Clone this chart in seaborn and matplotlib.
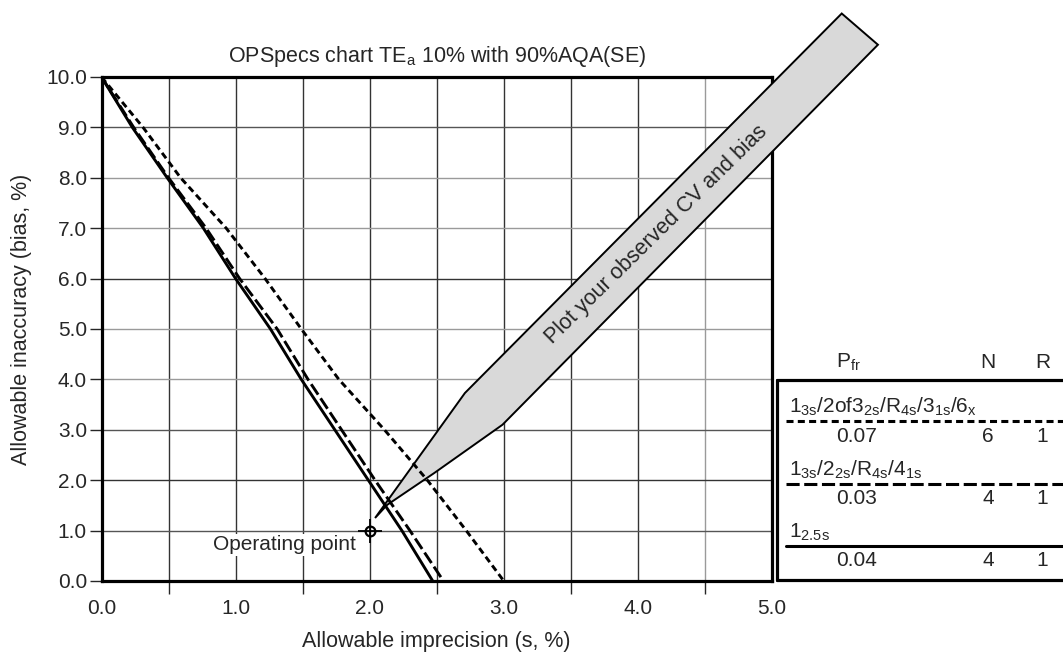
import numpy as np
import pandas as pd
import matplotlib
matplotlib.use("Agg")
import matplotlib.pyplot as plt
from matplotlib.lines import Line2D
from matplotlib.patches import Polygon
import seaborn as sns

# OPSpecs curves: allowable imprecision (s, %) read at each bias level
bias_levels = [10, 9, 8, 7, 6, 5, 4, 3, 2, 1, 0]
s_multi6 = [0.0, 0.31, 0.59, 0.93, 1.22, 1.49, 1.77, 2.11, 2.43, 2.72, 3.00]
s_multi4 = [0.0, 0.24, 0.50, 0.78, 1.03, 1.31, 1.54, 1.79, 2.04, 2.30, 2.55]
s_single = [0.0, 0.23, 0.49, 0.76, 1.00, 1.26, 1.49, 1.74, 1.99, 2.24, 2.47]

rules = ["1$_{3s}$/2of3$_{2s}$/R$_{4s}$/3$_{1s}$/6$_{x}$",
         "1$_{3s}$/2$_{2s}$/R$_{4s}$/4$_{1s}$",
         "1$_{2.5s}$"]
pfr = ["0.07", "0.03", "0.04"]
n_vals = [6, 4, 4]
r_vals = [1, 1, 1]

op_s = [2.0]
op_bias = [1.0]

# pointer band "Plot your observed CV and bias"
arrow_s = [2.04, 2.71, 5.52, 5.79, 2.99, 2.48, 2.13]
arrow_bias = [1.25, 3.73, 11.26, 10.64, 3.10, 2.14, 1.51]

sns.set_style("white")
plt.rcParams["font.family"] = ["Liberation Sans", "DejaVu Sans"]
plt.rcParams["mathtext.default"] = "regular"

W, H = 1063, 652
def fx(px):
    return px / W
def fy(py):
    return 1 - py / H

DASHES = {rules[0]: (2.3, 1.4), rules[1]: (4.3, 1.5), rules[2]: ""}

df = pd.DataFrame({
    "s": s_multi6 + s_multi4 + s_single,
    "bias": bias_levels * 3,
    "rule": [rules[0]] * 11 + [rules[1]] * 11 + [rules[2]] * 11,
})

fig = plt.figure(figsize=(10.63, 6.52), dpi=100)
ax = fig.add_axes([fx(101.5), fy(581), fx(772) - fx(101.5), fy(77) - fy(581)])

sns.lineplot(data=df, x="s", y="bias", hue="rule", style="rule",
             palette=["black"] * 3, dashes=DASHES, linewidth=2.1,
             estimator=None, sort=False, legend=False, ax=ax, zorder=4)

ax.add_patch(Polygon(list(zip(arrow_s, arrow_bias)), closed=True,
                     facecolor="#d9d9d9", edgecolor="black", lw=1.4,
                     clip_on=False, zorder=3))
ax.text(4.14, 6.87, "Plot your observed CV and bias", rotation=44.5,
        rotation_mode="anchor", ha="center", va="center", fontsize=15.5,
        zorder=5)

ax.plot(op_s, op_bias, marker="o", ms=7, mfc="none", mec="black", mew=1.6,
        ls="none", zorder=6)
ax.plot(op_s, op_bias, marker="+", ms=17, mec="black", mew=1.3,
        ls="none", zorder=6)
ax.text(op_s[0] - 0.1, op_bias[0] - 0.28, "Operating point", ha="right",
        va="center", fontsize=15, zorder=5,
        bbox=dict(facecolor="white", edgecolor="none", pad=1))

ax.set_xlim(0, 5)
ax.set_ylim(0, 10)
ax.set_xticks(np.arange(0, 5.01, 1.0))
ax.set_xticks(np.arange(0.5, 5.0, 1.0), minor=True)
ax.set_xticklabels([f"{v:.1f}" for v in np.arange(0, 5.01, 1.0)])
ax.set_yticks(np.arange(0, 10.01, 1.0))
ax.set_yticklabels([f"{v:.1f}" for v in np.arange(0, 10.01, 1.0)])
ax.tick_params(axis="x", which="major", length=0, pad=13, labelsize=15)
ax.tick_params(axis="x", which="minor", length=9, width=1.0, direction="out",
               bottom=True)
ax.tick_params(axis="y", which="major", length=8.5, width=1.0, pad=2,
               direction="out", left=True, labelsize=15)
ax.grid(True, which="both", axis="x", color="#333333", lw=1.0)
ax.grid(True, which="major", axis="y", color="#333333", lw=1.0)
ax.set_axisbelow(True)

# scanned original: some grid rules print lighter than others
for val, tk in zip(range(11), ax.yaxis.get_major_ticks()):
    if val in (4, 5, 7, 8):
        tk.gridline.set_color("#9a9a9a")
    elif val in (1, 3, 9):
        tk.gridline.set_color("#555555")
ax.xaxis.get_minor_ticks()[-1].gridline.set_color("#9a9a9a")

for sp in ax.spines.values():
    sp.set_linewidth(2.3)
    sp.set_color("black")

ax.set_xlabel("Allowable imprecision (s, %)", fontsize=15.5)
ax.set_ylabel("Allowable inaccuracy (bias, %)", fontsize=15.5)
ax.xaxis.set_label_coords(0.5, -0.10)
ax.yaxis.set_label_coords(-0.104, 0.52)
ax.set_title("OPSpecs chart TE$_{a}$ 10% with 90%AQA(SE)", fontsize=15.5,
             pad=11)

# rule table on the right
box_l, box_t, box_b = 777, 379.5, 579.5
for xs, ys in [([box_l, box_l], [box_t, box_b]),
               ([box_l, 1070], [box_t, box_t]),
               ([box_l, 1070], [box_b, box_b])]:
    fig.add_artist(Line2D([fx(v) for v in xs], [fy(v) for v in ys],
                          color="black", lw=2.3, transform=fig.transFigure))
fig.text(fx(836), fy(362), "P$_{fr}$", ha="left", va="center", fontsize=15)
fig.text(fx(988), fy(362), "N", ha="center", va="center", fontsize=15)
fig.text(fx(1043), fy(362), "R", ha="center", va="center", fontsize=15)

row_lines = [421, 484, 545.5]
for i, rule in enumerate(rules):
    ly = row_lines[i]
    fig.text(fx(789), fy(ly - 8), rule, ha="left", va="baseline", fontsize=15)
    ln = Line2D([fx(786), fx(1070)], [fy(ly), fy(ly)], color="black", lw=2.2,
                transform=fig.transFigure)
    if DASHES[rule]:
        ln.set_dashes(DASHES[rule])
    fig.add_artist(ln)
    fig.text(fx(857), fy(ly + 15), pfr[i], ha="center", va="center", fontsize=15)
    fig.text(fx(988), fy(ly + 15), str(n_vals[i]), ha="center", va="center",
             fontsize=15)
    fig.text(fx(1042), fy(ly + 15), str(r_vals[i]), ha="center", va="center",
             fontsize=15)

fig.savefig("out.png", dpi=100)
